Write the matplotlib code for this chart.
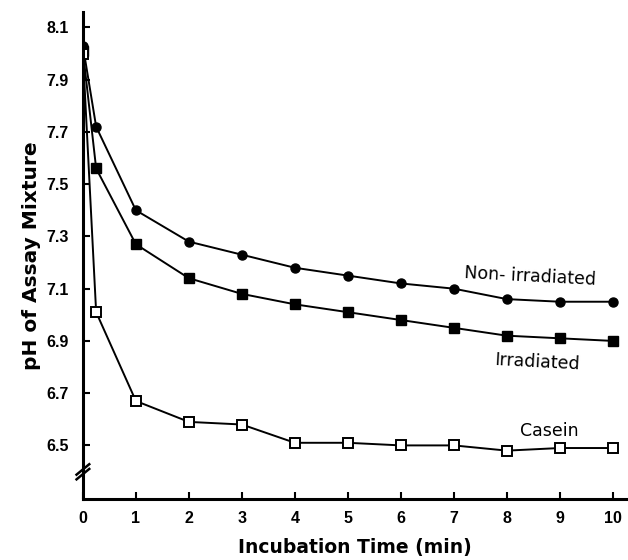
import matplotlib
matplotlib.use("Agg")
import matplotlib.pyplot as plt

# incubation time (min)
t = [0, 0.25, 1, 2, 3, 4, 5, 6, 7, 8, 9, 10]
# pH of assay mixture
non_irr = [8.03, 7.72, 7.40, 7.28, 7.23, 7.18, 7.15, 7.12, 7.10, 7.06, 7.05, 7.05]
irr = [8.01, 7.56, 7.27, 7.14, 7.08, 7.04, 7.01, 6.98, 6.95, 6.92, 6.91, 6.90]
casein = [8.00, 7.01, 6.67, 6.59, 6.58, 6.51, 6.51, 6.50, 6.50, 6.48, 6.49, 6.49]

yticks = [6.5, 6.7, 6.9, 7.1, 7.3, 7.5, 7.7, 7.9, 8.1]
xticks = list(range(11))

plt.rcParams['font.family'] = ['Liberation Sans', 'DejaVu Sans']

fig = plt.figure(figsize=(6.28, 5.6), dpi=100)
ax = fig.add_axes([0.132, 0.109, 0.865, 0.870])

ax.plot(t, non_irr, '-', color='black', lw=1.4, marker='o', ms=6.5,
        mfc='black', mec='black')
ax.plot(t, irr, '-', color='black', lw=1.4, marker='s', ms=6.5,
        mfc='black', mec='black')
ax.plot(t, casein, '-', color='black', lw=1.4, marker='s', ms=6.5,
        mfc='white', mec='black', mew=1.4)

ax.set_xlim(0, 10.25)
ax.set_ylim(6.295, 8.16)
ax.set_xticks(xticks)
ax.set_yticks(yticks)
ax.set_xticklabels([str(v) for v in xticks], fontweight='bold', fontsize=11.5)
ax.set_yticklabels(['%.1f' % v for v in yticks], fontweight='bold', fontsize=11.5)
ax.tick_params(direction='in', length=5, width=1.5, pad=10)
ax.tick_params(axis='x', pad=9)

for s in ['top', 'right']:
    ax.spines[s].set_visible(False)
for s in ['left', 'bottom']:
    ax.spines[s].set_linewidth(2.2)

ax.set_ylabel('pH of Assay Mixture', fontsize=14.5, fontweight='bold',
              family='DejaVu Sans', labelpad=4)
ax.set_xlabel('Incubation Time (min)', fontsize=13.5, fontweight='bold',
              family='DejaVu Sans', labelpad=8)

# axis break marks
for dy in (0.0, 0.018):
    ax.plot([-0.12, 0.12], [6.37 + dy, 6.41 + dy], color='black', lw=1.8,
            clip_on=False)

ax.text(8.43, 7.145, 'Non- irradiated', fontsize=12.5, family='DejaVu Sans',
        ha='center', va='center', rotation=-3)
ax.text(8.58, 6.82, 'Irradiated', fontsize=12.5, family='DejaVu Sans',
        ha='center', va='center', rotation=-3)
ax.text(8.8, 6.555, 'Casein', fontsize=12.5, family='DejaVu Sans',
        ha='center', va='center')

fig.savefig('out.png', dpi=100)
